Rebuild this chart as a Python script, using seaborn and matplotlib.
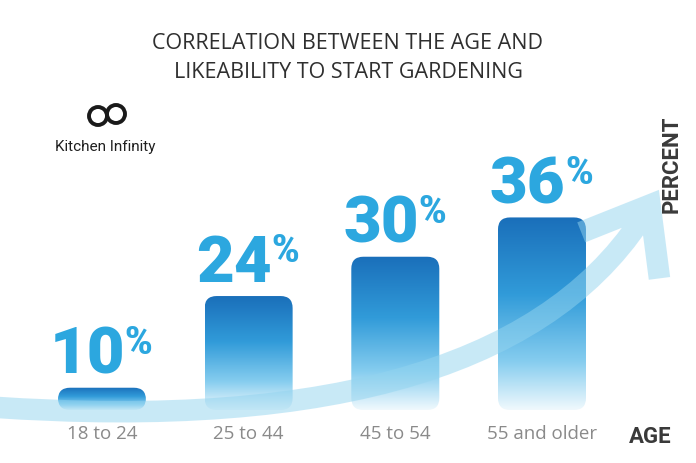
import numpy as np
import matplotlib
matplotlib.use('Agg')
import matplotlib.pyplot as plt
import seaborn as sns
from matplotlib.colors import LinearSegmentedColormap
from matplotlib.patches import FancyBboxPatch, PathPatch, Circle
from matplotlib.path import Path

age_groups = ['18 to 24', '25 to 44', '45 to 54', '55 and older']
percent = [10, 24, 30, 36]
title = 'CORRELATION BETWEEN THE AGE AND\nLIKEABILITY TO START GARDENING'

sns.set_style('white')
plt.rcParams['font.family'] = ['Open Sans', 'DejaVu Sans']

fig = plt.figure(figsize=(6.96, 4.64), dpi=100)
ax = fig.add_axes([0, 53 / 464, 1, 411 / 464])
sns.barplot(x=age_groups, y=percent, width=0.6, color='#2a8fd0', ax=ax)

xlim = (-0.695, 4.05)
ylim = (6.6, 69.35)
y_aspect = (1 / 4.745 * 696) / (411 / (ylim[1] - ylim[0]))

# gradient rounded bars instead of flat ones
cmap = LinearSegmentedColormap.from_list(
    'bar', [(0, '#f0f9fd'), (0.25, '#86cdef'), (0.6, '#319bd9'), (1, '#1a6fba')])
grad = np.linspace(0, 1, 256).reshape(-1, 1)
for p in ax.patches:
    x0, w, h = p.get_x(), p.get_width(), p.get_height()
    p.set_visible(False)
    box = FancyBboxPatch((x0, ylim[0]), w, h - ylim[0],
                         boxstyle='round,pad=0,rounding_size=0.082',
                         mutation_aspect=y_aspect, facecolor='none', edgecolor='none')
    ax.add_patch(box)
    im = ax.imshow(grad, extent=[x0, x0 + w, ylim[0], h], origin='lower',
                   aspect='auto', cmap=cmap, zorder=2)
    im.set_clip_path(box)

# percentage labels
for i, v in enumerate(percent):
    ax.annotate(str(v), xy=(i, v), xytext=(17, 11), textcoords='offset points',
                ha='right', va='baseline', fontsize=47, color='#2ca7df',
                family=['Roboto', 'DejaVu Sans'], fontweight='black')
    ax.annotate('%', xy=(i, v), xytext=(16.5, 46), textcoords='offset points',
                ha='left', va='top', fontsize=27, color='#2ca7df',
                family=['Roboto', 'DejaVu Sans'], fontweight='black')

ax.set_xlim(*xlim)
ax.set_ylim(*ylim)
ax.set_yticks([])
ax.set_xlabel('')
ax.set_ylabel('')
ax.tick_params(axis='x', length=0, pad=10, labelsize=13.5, labelcolor='#8a8a8a')
sns.despine(ax=ax, left=True, bottom=True)

# swoosh arrow (pixel coords, y up)
px = fig.dpi_scale_trans
P0, C, P2 = np.array([-10, 56]), np.array([510, 20]), np.array([650, 258])
d = (P2 - C) / np.linalg.norm(P2 - C)
ang = np.arctan2(-d[1], -d[0])
w1 = P2 + 74 * np.array([np.cos(ang - 0.66), np.sin(ang - 0.66)])
w2 = P2 + 74 * np.array([np.cos(ang + 0.66), np.sin(ang + 0.66)])
verts = [P0, C, P2, w1, P2, w2]
codes = [Path.MOVETO, Path.CURVE3, Path.CURVE3, Path.MOVETO, Path.LINETO, Path.LINETO]
arrow = PathPatch(Path(np.array(verts) / 100, codes), transform=px, fill=False,
                  edgecolor='#93d4ef', alpha=0.5, linewidth=15.5,
                  joinstyle='miter', capstyle='butt', zorder=3, clip_on=False)
ax.add_patch(arrow)

fig.text(0.5, 1 - 58 / 464, title, ha='center', va='center', fontsize=15.5,
         color='#2f2f2f', linespacing=1.45)
fig.text(650 / 696, 1 - 437 / 464, 'AGE', ha='center', va='center', fontsize=16,
         color='#3a3a3a', fontweight='bold', family=['Roboto', 'DejaVu Sans'])
fig.text(672 / 696, 1 - 164 / 464, 'PERCENT', ha='center', va='center', rotation=90,
         fontsize=16, color='#3a3a3a', fontweight='bold', family=['Roboto', 'DejaVu Sans'])

# logo
for cx, cy in [(98, 347), (116, 349)]:
    fig.add_artist(Circle((cx / 100, cy / 100), 0.09, transform=px, fill=False,
                          edgecolor='#1a1a1a', linewidth=2.8))
fig.text(105 / 696, 1 - 147 / 464, 'Kitchen Infinity', ha='center', va='center',
         fontsize=11, color='#1f1f1f', family=['Roboto', 'DejaVu Sans'])

fig.savefig('out.png', dpi=100)
